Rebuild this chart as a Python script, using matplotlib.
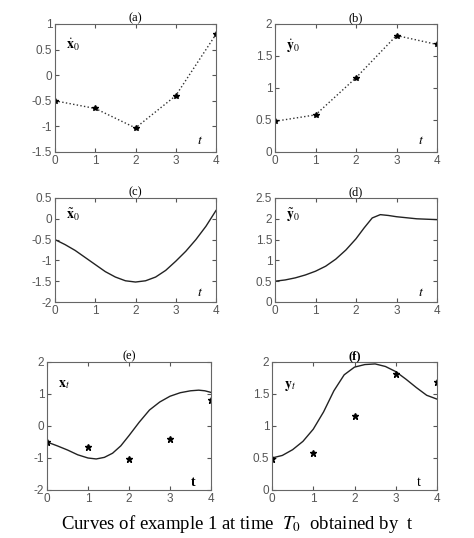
import matplotlib
matplotlib.use("Agg")
import matplotlib.pyplot as plt
from matplotlib.ticker import FuncFormatter

t_pts = [0, 1, 2, 3, 4]
x0_pts = [-0.5, -0.65, -1.03, -0.4, 0.8]
y0_pts = [0.48, 0.58, 1.16, 1.82, 1.68]

t_c = [0, 0.25, 0.5, 0.75, 1.0, 1.25, 1.5, 1.75, 2.0, 2.25, 2.5, 2.75, 3.0, 3.25, 3.5, 3.75, 4.0]
x_c = [-0.5, -0.62, -0.76, -0.93, -1.1, -1.27, -1.4, -1.49, -1.52, -1.49, -1.4, -1.24, -1.02, -0.78, -0.5, -0.18, 0.2]

t_d = [0, 0.25, 0.5, 0.75, 1.0, 1.25, 1.5, 1.75, 2.0, 2.2, 2.4, 2.6, 2.8, 3.0, 3.5, 4.0]
y_d = [0.5, 0.53, 0.58, 0.65, 0.74, 0.86, 1.03, 1.25, 1.52, 1.78, 2.02, 2.1, 2.08, 2.05, 2.0, 1.98]

t_e = [0, 0.25, 0.5, 0.75, 1.0, 1.2, 1.4, 1.6, 1.8, 2.0, 2.25, 2.5, 2.75, 3.0, 3.25, 3.5, 3.7, 3.85, 4.0]
x_e = [-0.5, -0.62, -0.75, -0.9, -1.0, -1.03, -0.98, -0.85, -0.62, -0.3, 0.12, 0.5, 0.75, 0.93, 1.04, 1.1, 1.12, 1.1, 1.05]

t_f = [0, 0.25, 0.5, 0.75, 1.0, 1.25, 1.5, 1.75, 2.0, 2.25, 2.5, 2.75, 3.0, 3.25, 3.5, 3.75, 4.0]
y_f = [0.5, 0.54, 0.63, 0.76, 0.95, 1.22, 1.55, 1.8, 1.92, 1.96, 1.97, 1.93, 1.85, 1.73, 1.6, 1.48, 1.42]

plt.rcParams["font.family"] = ["Liberation Sans", "DejaVu Sans"]
plt.rcParams["mathtext.fontset"] = "stix"
plt.rcParams["axes.unicode_minus"] = False
fig = plt.figure(figsize=(4.74, 5.38), dpi=100)

W, H = 474, 538
boxes = {
    "a": (55, 24, 216, 152), "b": (275, 24, 437, 152),
    "c": (55, 198, 216, 302), "d": (275, 198, 437, 302),
    "e": (47, 362, 211, 490), "f": (272, 362, 437, 490),
}
fmt = FuncFormatter(lambda v, p: f"{v:g}")


def make_ax(key):
    x0, y0, x1, y1 = boxes[key]
    ax = fig.add_axes([x0 / W, 1 - y1 / H, (x1 - x0) / W, (y1 - y0) / H])
    ax.set_xlim(0, 4)
    ax.set_xticks([0, 1, 2, 3, 4])
    ax.xaxis.set_major_formatter(fmt)
    ax.yaxis.set_major_formatter(fmt)
    ax.tick_params(labelsize=8.5, colors="#555555", direction="in", length=3, top=True, right=True, pad=2)
    for s in ax.spines.values():
        s.set_color("#666666")
    return ax


serif = ["Liberation Serif", "DejaVu Serif"]

ax = make_ax("a")
ax.plot(t_pts, x0_pts, ":", color="#333333", lw=1, marker="*", ms=4, mfc="k", mec="k")
ax.set_ylim(-1.5, 1)
ax.set_yticks([-1.5, -1, -0.5, 0, 0.5, 1])
ax.set_title("(a)", fontsize=9, family=serif, pad=2)
ax.text(0.07, 0.8, r"$\dot{\mathbf{x}}_0$", transform=ax.transAxes, fontsize=10)
ax.text(0.88, 0.06, r"$t$", transform=ax.transAxes, fontsize=10)

ax = make_ax("b")
ax.plot(t_pts, y0_pts, ":", color="#333333", lw=1, marker="*", ms=4, mfc="k", mec="k")
ax.set_ylim(0, 2)
ax.set_yticks([0, 0.5, 1, 1.5, 2])
ax.set_title("(b)", fontsize=9, family=serif, pad=2)
ax.text(0.07, 0.8, r"$\dot{\mathbf{y}}_0$", transform=ax.transAxes, fontsize=10)
ax.text(0.88, 0.06, r"$t$", transform=ax.transAxes, fontsize=10)

ax = make_ax("c")
ax.plot(t_c, x_c, color="#222222", lw=1)
ax.set_ylim(-2, 0.5)
ax.set_yticks([-2, -1.5, -1, -0.5, 0, 0.5])
ax.set_title("(c)", fontsize=9, family=serif, pad=2)
ax.text(0.07, 0.8, r"$\tilde{\mathbf{x}}_0$", transform=ax.transAxes, fontsize=10)
ax.text(0.88, 0.06, r"$t$", transform=ax.transAxes, fontsize=10)

ax = make_ax("d")
ax.plot(t_d, y_d, color="#222222", lw=1)
ax.set_ylim(0, 2.5)
ax.set_yticks([0, 0.5, 1, 1.5, 2, 2.5])
ax.set_title("(d)", fontsize=9, family=serif, pad=2)
ax.text(0.07, 0.8, r"$\tilde{\mathbf{y}}_0$", transform=ax.transAxes, fontsize=10)
ax.text(0.88, 0.06, r"$t$", transform=ax.transAxes, fontsize=10)

ax = make_ax("e")
ax.plot(t_e, x_e, color="#222222", lw=1)
ax.plot(t_pts, x0_pts, "*", color="k", ms=5)
ax.set_ylim(-2, 2)
ax.set_yticks([-2, -1, 0, 1, 2])
ax.set_title("(e)", fontsize=9, family=serif, pad=2)
ax.text(0.07, 0.8, r"$\mathbf{x}_t$", transform=ax.transAxes, fontsize=10)
ax.text(0.88, 0.03, "t", transform=ax.transAxes, fontsize=10, family=serif, weight="bold")

ax = make_ax("f")
ax.plot(t_f, y_f, color="#222222", lw=1)
ax.plot(t_pts, y0_pts, "*", color="k", ms=5)
ax.set_ylim(0, 2)
ax.set_yticks([0, 0.5, 1, 1.5, 2])
ax.set_title("(f)", fontsize=9, family=serif, pad=2, weight="bold")
ax.text(0.07, 0.8, r"$\mathbf{y}_t$", transform=ax.transAxes, fontsize=10)
ax.text(0.88, 0.03, "t", transform=ax.transAxes, fontsize=10, family=serif)

fig.text(0.5, 1.0 - 524 / H, r"Curves of example 1 at time  $T_0$  obtained by  t",
         ha="center", va="center", fontsize=13.5, family=serif)

fig.savefig("out.png", dpi=100)
